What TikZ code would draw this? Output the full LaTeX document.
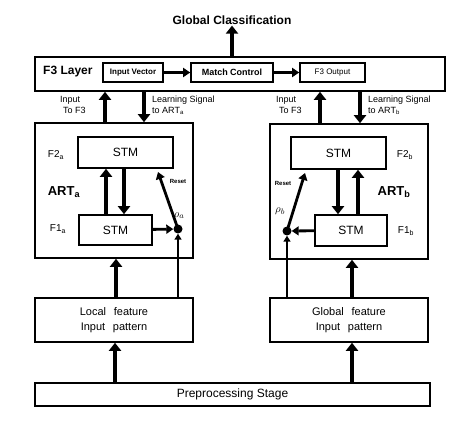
\documentclass[tikz,border=0pt]{standalone}
\usepackage{fontspec}
\setmainfont{Liberation Sans}
\usetikzlibrary{arrows.meta,positioning,calc}

\begin{document}
\begin{tikzpicture}[
  x=1pt, y=-1pt,
  box/.style={draw, rectangle, line width=1.6pt, inner sep=0pt, align=center},
  stm/.style={box, font=\fontsize{12}{14}\selectfont},
  inbox/.style={box, minimum width=158pt, minimum height=44pt, font=\fontsize{11}{15}\selectfont},
  artbox/.style={box, minimum width=158pt, minimum height=135pt},
  fat/.style={line width=4.2pt, -{Triangle[length=8pt,width=12pt]}},
  mid/.style={line width=2.8pt, -{Triangle[length=7pt,width=9pt]}},
  thin/.style={line width=1.6pt, -{Triangle[length=6pt,width=7pt]}},
  lbl/.style={inner sep=0pt, align=left, font=\fontsize{9}{11}\selectfont},
  flbl/.style={inner sep=0pt, font=\fontsize{10}{12}\selectfont},
  artlbl/.style={inner sep=0pt, font=\fontsize{13}{15}\selectfont\bfseries},
  dot/.style={circle, fill, inner sep=0pt, minimum size=9pt}
]
  \useasboundingbox (0,0) rectangle (452,435);

  % Nodes
  \node[inner sep=1pt, font=\fontsize{12}{14}\selectfont\bfseries] (global) at (232,20) {Global Classification};

  \node[box, minimum width=410pt, minimum height=34pt] (f3layer) at (240,74) {};
  \node[inner sep=0pt, anchor=west, font=\fontsize{12}{14}\selectfont\bfseries] (f3name) at (43,72) {F3 Layer};
  \node[box, minimum width=60pt, minimum height=19pt, font=\fontsize{8}{9}\selectfont\bfseries] (invec) at (133,72.5) {Input Vector};
  \node[box, minimum width=82pt, minimum height=19pt, font=\fontsize{9}{10}\selectfont\bfseries] (match) at (232,72.5) {Match Control};
  \node[box, minimum width=65pt, minimum height=19pt, font=\fontsize{8}{9}\selectfont] (f3out) at (332.5,72.5) {F3 Output};

  \node[artbox] (arta) at (114,190.5) {};
  \node[artbox] (artb) at (349,191.5) {};

  \node[stm, minimum width=95pt, minimum height=31pt] (f2a) at (125.5,152.5) {STM};
  \node[stm, minimum width=73pt, minimum height=30pt] (f1a) at (115.5,230) {STM};
  \node[stm, minimum width=95pt, minimum height=32pt] (f2b) at (338.5,153) {STM};
  \node[stm, minimum width=72pt, minimum height=31pt] (f1b) at (351,230.5) {STM};

  \node[dot] (rhoa) at (178,229) {};
  \node[dot] (rhob) at (287,231) {};
  \coordinate (reseta) at (158,172);
  \coordinate (resetb) at (305,173);

  \node[inbox] (local) at (114,320) {Local\hspace{0.7em}feature\\Input\hspace{0.7em}pattern};
  \node[inbox] (globfeat) at (349,320) {Global\hspace{0.7em}feature\\Input\hspace{0.7em}pattern};
  \node[box, minimum width=395pt, minimum height=23pt, font=\fontsize{12}{14}\selectfont] (prep) at (232.5,394.5) {Preprocessing Stage};

  % Labels
  \node[lbl, anchor=west] (ina) at (60,105) {Input\\\hspace{3pt}To F3};
  \node[lbl, anchor=west] (learna) at (152,105) {Learning Signal\\to ART\textsubscript{a}};
  \node[lbl, anchor=west] (inb) at (276,105) {Input\\\hspace{3pt}To F3};
  \node[lbl, anchor=west] (learnb) at (368,105) {Learning Signal\\to ART\textsubscript{b}};

  \node[flbl] (f2alabel) at (56,155) {F2\textsubscript{a}};
  \node[artlbl] (artalabel) at (64,192) {ART\textsubscript{a}};
  \node[flbl] (f1alabel) at (58,229) {F1\textsubscript{a}};
  \node[flbl] (f2blabel) at (405,155) {F2\textsubscript{b}};
  \node[artlbl] (artblabel) at (394,192) {ART\textsubscript{b}};
  \node[flbl] (f1blabel) at (406,231) {F1\textsubscript{b}};

  \node[inner sep=0pt, font=\fontsize{6}{7}\selectfont\bfseries] (reseta-l) at (178,181) {Reset};
  \node[inner sep=0pt, font=\fontsize{6}{7}\selectfont\bfseries] (resetb-l) at (283,183) {Reset};
  \node[inner sep=0pt, font=\fontsize{11}{12}\selectfont] (rhoa-l) at (179,216) {$\rho_a$};
  \node[inner sep=0pt, font=\fontsize{11}{12}\selectfont] (rhob-l) at (280,211) {$\rho_b$};

  % Arrows
  \draw[fat] (f3layer.north -| global) -- (global);
  \draw[mid] (invec) -- (match);
  \draw[mid] (match) -- (f3out);

  \draw[fat] (arta.north -| 105,0) -- (f3layer.south -| 105,0);
  \draw[fat] (f3layer.south -| 144,0) -- (arta.north -| 144,0);
  \draw[fat] (artb.north -| 320,0) -- (f3layer.south -| 320,0);
  \draw[fat] (f3layer.south -| 360,0) -- (artb.north -| 360,0);

  \draw[fat] (f1a.north -| 106,0) -- (f2a.south -| 106,0);
  \draw[fat] (f2a.south -| 124,0) -- (f1a.north -| 124,0);
  \draw[fat] (f2b.south -| 338,0) -- (f1b.north -| 338,0);
  \draw[fat] (f1b.north -| 358,0) -- (f2b.south -| 358,0);

  \draw[mid] (f1a) -- (rhoa);
  \draw[mid] (f1b) -- (rhob);
  \draw[mid] (rhoa.center) -- (reseta);
  \draw[mid] (rhob.center) -- (resetb);

  \draw[fat] (local.north -| 116,0) -- (arta.south -| 116,0);
  \draw[thin] (local.north -| rhoa) -- (rhoa);
  \draw[fat] (globfeat.north -| 352,0) -- (artb.south -| 352,0);
  \draw[thin] (globfeat.north -| rhob) -- (rhob);

  \draw[fat] (prep.north -| 115,0) -- (local.south -| 115,0);
  \draw[fat] (prep.north -| 352,0) -- (globfeat.south -| 352,0);
\end{tikzpicture}
\end{document}
